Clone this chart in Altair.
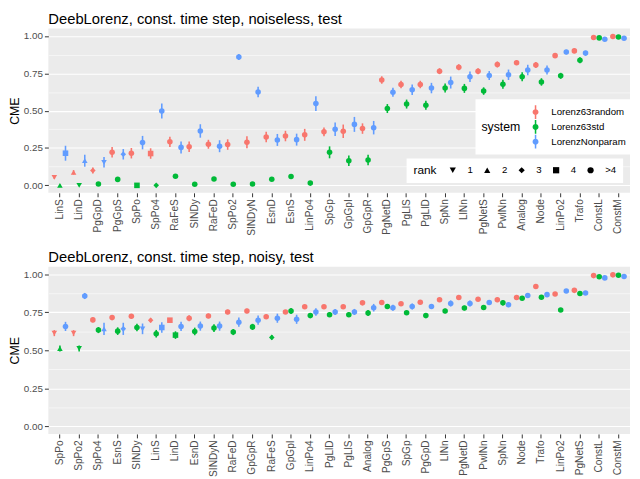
import altair as alt
import pandas as pd

systems = ["Lorenz63random", "Lorenz63std", "LorenzNonparam"]
colors = ["#F8766D", "#00BA38", "#619CFF"]
rank_levels = ["1", "2", "3", "4", ">4"]
rank_shapes = ["triangle-down", "triangle-up", "diamond", "square", "circle"]

# ---------------- top panel: noiseless ----------------
top_title = "DeebLorenz, const. time step, noiseless, test"
top_methods = ["LinS", "LinD", "PgGpD", "PgGpS", "SpPo", "SpPo4", "RaFeS", "SINDy", "RaFeD", "SpPo2",
               "SINDyN", "EsnD", "EsnS", "LinPo4", "SpGp", "GpGpI", "GpGpR", "PgNetD", "PgLlS", "PgLlD",
               "SpNn", "LlNn", "PgNetS", "PwlNn", "Analog", "Node", "LinPo2", "Trafo", "ConstL", "ConstM"]
top_random = [0.054, 0.087, 0.100, 0.221, 0.215, 0.213, 0.291, 0.258, 0.275, 0.273,
              0.289, 0.323, 0.330, 0.338, 0.358, 0.362, 0.380, 0.705, 0.675, 0.675,
              0.764, 0.790, 0.764, 0.809, 0.820, 0.805, 0.868, 0.900, 0.989, 0.996]
top_random_err = [0.010, 0.015, 0.020, 0.035, 0.035, 0.035, 0.035, 0.035, 0.030, 0.035,
                  0.040, 0.035, 0.035, 0.040, 0.030, 0.045, 0.035, 0.025, 0.025, 0.025,
                  0.020, 0.020, 0.020, 0.020, 0.015, 0.020, 0.015, 0.015, 0.008, 0.005]
top_std = [0.000, 0.000, 0.009, 0.040, 0.000, 0.000, 0.061, 0.007, 0.043, 0.007,
           0.009, 0.041, 0.059, 0.015, 0.221, 0.165, 0.169, 0.514, 0.544, 0.536,
           0.651, 0.649, 0.631, 0.677, 0.727, 0.692, 0.733, 0.837, 0.987, 0.993]
top_std_err = [0.005, 0.005, 0.008, 0.010, 0.005, 0.005, 0.010, 0.005, 0.010, 0.005,
               0.005, 0.010, 0.010, 0.008, 0.040, 0.035, 0.035, 0.030, 0.030, 0.030,
               0.030, 0.030, 0.025, 0.030, 0.030, 0.025, 0.020, 0.020, 0.008, 0.005]
top_nonparam = [0.215, 0.165, 0.154, 0.208, 0.286, 0.497, 0.254, 0.364, 0.262, 0.859,
                0.625, 0.304, 0.306, 0.547, 0.375, 0.408, 0.386, 0.623, 0.640, 0.651,
                0.688, 0.727, 0.735, 0.740, 0.772, 0.772, 0.892, 0.885, 0.978, 0.985]
top_nonparam_err = [0.050, 0.040, 0.035, 0.035, 0.045, 0.050, 0.040, 0.045, 0.040, 0.020,
                    0.035, 0.040, 0.040, 0.050, 0.045, 0.050, 0.045, 0.030, 0.035, 0.035,
                    0.040, 0.035, 0.030, 0.035, 0.035, 0.030, 0.015, 0.015, 0.008, 0.005]
top_ranks = {
    "Lorenz63random": {"LinS": "1", "LinD": "2", "PgGpD": "3", "SpPo4": "4"},
    "Lorenz63std": {"LinD": "1", "LinS": "2", "SpPo4": "3", "SpPo": "4"},
    "LorenzNonparam": {"PgGpD": "1", "LinD": "2", "PgGpS": "3", "LinS": "4"},
}

# ---------------- bottom panel: noisy ----------------
bot_title = "DeebLorenz, const. time step, noisy, test"
bot_methods = ["SpPo", "SpPo2", "SpPo4", "EsnS", "SINDy", "LinS", "LinD", "EsnD", "SINDyN", "RaFeD",
               "GpGpR", "RaFeS", "GpGpI", "LinPo4", "PgLlD", "PgLlS", "Analog", "PgGpS", "SpGp", "PgGpD",
               "LlNn", "PgNetD", "PwlNn", "SpNn", "Node", "Trafo", "LinPo2", "PgNetS", "ConstL", "ConstM"]
bot_random = [0.613, 0.613, 0.700, 0.715, 0.724, 0.698, 0.698, 0.711, 0.726, 0.752,
              0.758, 0.721, 0.752, 0.786, 0.786, 0.786, 0.812, 0.814, 0.806, 0.816,
              0.832, 0.847, 0.836, 0.832, 0.847, 0.920, 0.870, 0.894, 0.991, 0.996]
bot_random_err = [0.020, 0.020, 0.015, 0.015, 0.015, 0.015, 0.015, 0.020, 0.015, 0.015,
                  0.015, 0.015, 0.012, 0.012, 0.012, 0.012, 0.012, 0.012, 0.012, 0.012,
                  0.012, 0.012, 0.012, 0.015, 0.010, 0.010, 0.010, 0.010, 0.005, 0.005]
bot_std = [0.512, 0.512, 0.633, 0.626, 0.650, 0.609, 0.600, 0.624, 0.646, 0.620,
           0.654, 0.585, 0.758, 0.728, 0.734, 0.734, 0.745, 0.788, 0.747, 0.728,
           0.758, 0.778, 0.782, 0.812, 0.842, 0.849, 0.765, 0.873, 0.983, 0.994]
bot_std_err = [0.020, 0.020, 0.020, 0.025, 0.025, 0.025, 0.025, 0.025, 0.025, 0.020,
               0.020, 0.015, 0.020, 0.015, 0.015, 0.015, 0.020, 0.012, 0.012, 0.012,
               0.015, 0.015, 0.015, 0.015, 0.012, 0.012, 0.012, 0.010, 0.005, 0.005]
bot_nonparam = [0.657, 0.857, 0.641, 0.641, 0.641, 0.650, 0.657, 0.659, 0.659, 0.685,
                0.698, 0.711, 0.704, 0.752, 0.752, 0.752, 0.780, 0.780, 0.788, 0.788,
                0.808, 0.808, 0.814, 0.799, 0.860, 0.866, 0.890, 0.877, 0.976, 0.985]
bot_nonparam_err = [0.030, 0.020, 0.040, 0.040, 0.035, 0.035, 0.030, 0.030, 0.030, 0.030,
                    0.030, 0.030, 0.030, 0.025, 0.020, 0.020, 0.025, 0.020, 0.020, 0.015,
                    0.020, 0.020, 0.015, 0.015, 0.010, 0.010, 0.012, 0.010, 0.005, 0.005]
bot_ranks = {
    "Lorenz63random": {"SpPo": "1", "SpPo2": "1", "LinS": "3", "LinD": "4"},
    "Lorenz63std": {"SpPo2": "1", "SpPo": "2", "RaFeS": "3", "LinD": "4"},
    "LorenzNonparam": {"SINDy": "1", "SpPo4": "2", "EsnS": "3", "LinS": "4"},
}


def build_frame(methods, series, errs, ranks):
    rows = []
    for s, vals, es in zip(systems, series, errs):
        for m, v, e in zip(methods, vals, es):
            rows.append({"method": m, "system": s, "cme": v,
                         "lo": v - e, "hi": v + e,
                         "rank": ranks[s].get(m, ">4")})
    return pd.DataFrame(rows)


top_df = build_frame(top_methods, [top_random, top_std, top_nonparam],
                     [top_random_err, top_std_err, top_nonparam_err], top_ranks)
bot_df = build_frame(bot_methods, [bot_random, bot_std, bot_nonparam],
                     [bot_random_err, bot_std_err, bot_nonparam_err], bot_ranks)

FONT = "Liberation Sans"
key_path = ("M-0.43,0A0.43,0.43,0,1,1,0.43,0A0.43,0.43,0,1,1,-0.43,0Z"
            "M-0.11,-1L0.11,-1L0.11,1L-0.11,1Z")

y_ticks = [0, 0.125, 0.25, 0.375, 0.5, 0.625, 0.75, 0.875, 1.0]
major_test = "round(datum.value*4) == datum.value*4"


def panel(df, methods, title, legend, height):
    xs = alt.X("method:N", sort=methods, title=None,
               scale=alt.Scale(paddingInner=0, paddingOuter=0.1),
               axis=alt.Axis(labelAngle=270, bandPosition=0.5, labelFontSize=10.3,
                             labelColor="#4D4D4D", labelPadding=2, tickColor="#333333",
                             tickSize=4, gridColor="white", gridWidth=1.1, domain=False,
                             labelFont=FONT))
    xo = alt.XOffset("system:N",
                     scale=alt.Scale(domain=systems, paddingInner=0, paddingOuter=0.224))
    yscale = alt.Scale(domain=[-0.05, 1.05], nice=False, zero=False)
    yaxis = alt.Axis(values=y_ticks,
                     labelExpr="round(datum.value*4) == datum.value*4 ? format(datum.value, '.2f') : ''",
                     labelFontSize=10, labelColor="#4D4D4D", labelPadding=2, labelFont=FONT,
                     tickColor="#333333", tickSize=4,
                     tickOpacity={"condition": {"test": major_test, "value": 1}, "value": 0},
                     gridColor="white",
                     gridWidth={"condition": {"test": major_test, "value": 1.1}, "value": 0.55},
                     domain=False, titleFontSize=12.5, titleFontWeight="normal",
                     titleColor="black", titlePadding=2, titleFont=FONT)
    if legend:
        color_legend = alt.Legend(orient="none", legendX=434, legendY=72, direction="vertical",
                                  title="system", titleOrient="left", titleAnchor="middle",
                                  titleBaseline="middle", titleFontSize=12.5,
                                  titleFontWeight="normal", titleColor="black", titlePadding=8,
                                  titleFont=FONT, labelFont=FONT,
                                  labelFontSize=9.8, labelColor="black", labelOffset=9,
                                  symbolType=key_path, symbolSize=196, rowPadding=1,
                                  fillColor="white", padding=6, symbolStrokeWidth=0,
                                  symbolOpacity=1)
        shape_legend = alt.Legend(orient="none", legendX=364, legendY=132,
                                  direction="horizontal", title="rank", titleOrient="left",
                                  titleAnchor="middle", titleBaseline="middle",
                                  titleFontSize=12, titleFontWeight="normal", titleColor="black",
                                  titlePadding=11, titleFont=FONT, labelFont=FONT,
                                  labelFontSize=9.8, labelColor="black", labelOffset=10,
                                  columnPadding=9, symbolSize=40, symbolFillColor="black",
                                  symbolStrokeWidth=0, fillColor="white", padding=7)
    else:
        color_legend = None
        shape_legend = None
    color = alt.Color("system:N", scale=alt.Scale(domain=systems, range=colors),
                      legend=color_legend)
    shape = alt.Shape("rank:N", scale=alt.Scale(domain=rank_levels, range=rank_shapes),
                      legend=shape_legend)
    base = alt.Chart(df)
    bars = base.mark_rule(strokeWidth=1.6).encode(
        x=xs, xOffset=xo,
        y=alt.Y("lo:Q", scale=yscale, axis=yaxis, title="CME"),
        y2="hi:Q", color=color)
    pts = base.mark_point(filled=True, size=32, opacity=1).encode(
        x=xs, xOffset=xo,
        y=alt.Y("cme:Q", scale=yscale, axis=yaxis, title="CME"),
        color=color, shape=shape)
    return alt.layer(bars, pts).properties(
        width=591, height=height,
        title=alt.TitleParams(title, anchor="start", frame="group", fontSize=15,
                              fontWeight="normal", color="black", offset=2, font=FONT))


top = panel(top_df, top_methods, top_title, True, 167)
bot = panel(bot_df, bot_methods, bot_title, False, 170)

chart = alt.vconcat(top, bot, spacing=14).resolve_scale(x="independent").properties(
    padding={"left": 0, "top": 0, "right": 0, "bottom": 0}
).configure(font=FONT).configure_view(fill="#EBEBEB", strokeWidth=0)

chart.save("out.html", embed_options={"renderer": "svg", "actions": False})
